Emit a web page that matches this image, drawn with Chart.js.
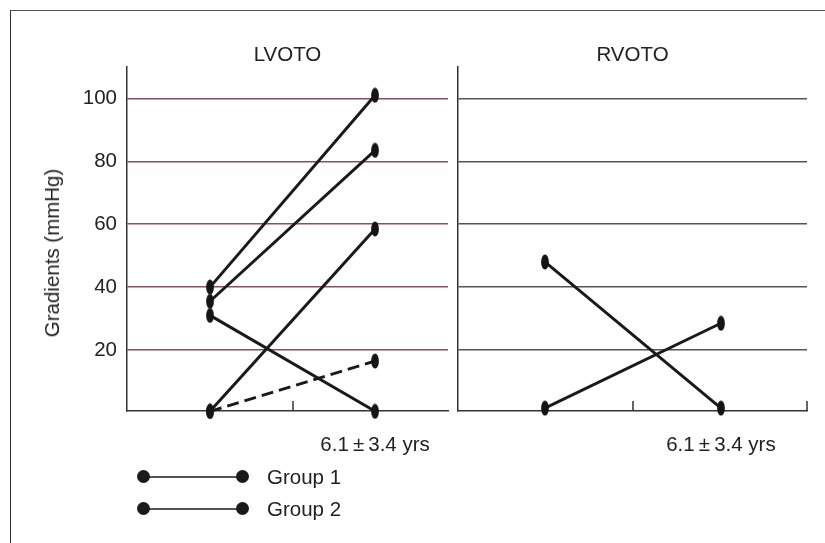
<!DOCTYPE html>
<html>
<head>
<meta charset="utf-8">
<script src="https://cdn.jsdelivr.net/npm/chart.js@4"></script>
<style>
  html, body { margin: 0; padding: 0; background: #fff; }
  #wrap { position: relative; width: 825px; height: 543px; overflow: hidden;
          font-family: "Liberation Sans", Arial, Helvetica, sans-serif; color: #222; }
  #frame { position: absolute; left: 10px; top: 10px; width: 900px; height: 700px;
           border-top: 1.5px solid #555; border-left: 1.5px solid #333; }
  canvas { position: absolute; top: 0; }
  #cL { left: 0; }
  #cR { left: 452px; }
  #ytitle { position: absolute; left: 52px; top: 253px; font-size: 20.5px; white-space: nowrap;
            transform: translate(-50%, -50%) rotate(-90deg); }
  .legItem { position: absolute; left: 137px; height: 14px; width: 300px; }
  .legLine { position: absolute; left: 6px; top: 6px; width: 99px; height: 2px; background: #555; }
  .legDot { position: absolute; top: 0; width: 13px; height: 13px; border-radius: 50%; background: #1a1a1a; }
  .legText { position: absolute; left: 130px; top: -5px; font-size: 20.5px; line-height: 24px; }
</style>
</head>
<body>
<div id="wrap">
  <div id="frame"></div>
  <canvas id="cL" width="452" height="543"></canvas>
  <canvas id="cR" width="373" height="543"></canvas>
  <div id="ytitle">Gradients (mmHg)</div>
  <div id="legend"></div>
</div>
<script>
// Time points: baseline and follow-up
const timepoints = [1, 2];
const followUpLabel = '6.1\u2009\u00B1\u20093.4 yrs';
const panelTitles = ['LVOTO', 'RVOTO'];
const gradientTicks = [20, 40, 60, 80, 100];
const groupLabels = ['Group 1', 'Group 2'];

// LVOTO gradients (mmHg) per patient, baseline -> follow-up
const lvotoBaseline = [40, 35.5, 31, 0.5, 0.5];
const lvotoFollowUp = [101, 83.5, 0.5, 58.5, 16.5];
const lvotoGroup    = [1, 1, 1, 1, 2];

// RVOTO gradients (mmHg) per patient, baseline -> follow-up
const rvotoBaseline = [48, 1.5];
const rvotoFollowUp = [1.5, 28.5];
const rvotoGroup    = [1, 1];

const FONT_FAMILY = '"Liberation Sans", Arial, Helvetica, sans-serif';
const INK = '#1a1a1a';

// Upright elliptical marker used for each measurement
const marker = document.createElement('canvas');
marker.width = 8; marker.height = 16;
(function () {
  const c = marker.getContext('2d');
  c.fillStyle = '#151515';
  c.beginPath();
  c.ellipse(4, 8, 3.9, 7.6, 0, 0, Math.PI * 2);
  c.fill();
})();

function buildDatasets(before, after, group) {
  return before.map((b, i) => ({
    label: groupLabels[group[i] - 1],
    data: [{ x: timepoints[0], y: b }, { x: timepoints[1], y: after[i] }],
    showLine: true,
    borderColor: INK,
    borderWidth: 3,
    borderDash: group[i] === 2 ? [12, 6] : [],
    pointStyle: marker,
    pointRadius: 8,
    pointBackgroundColor: INK,
    clip: false
  }));
}

// Panel title and the small inward ticks on the x axis
function panelDecor(title, midTicks, endTick) {
  return {
    id: 'panelDecor',
    afterDraw(chart) {
      const { ctx, chartArea, scales } = chart;
      ctx.save();
      ctx.strokeStyle = '#333';
      ctx.lineWidth = 1.5;
      const xs = midTicks.map(v => scales.x.getPixelForValue(v));
      if (endTick) xs.push(chartArea.right);
      xs.forEach(px => {
        const x = Math.round(px);
        ctx.beginPath();
        ctx.moveTo(x, chartArea.bottom);
        ctx.lineTo(x, chartArea.bottom - 10);
        ctx.stroke();
      });
      ctx.fillStyle = '#222';
      ctx.font = '20.5px ' + FONT_FAMILY;
      ctx.textAlign = 'center';
      ctx.textBaseline = 'alphabetic';
      ctx.fillText(title, (chartArea.left + chartArea.right) / 2, 61);
      ctx.restore();
    }
  };
}

function makePanel(canvasId, datasets, cfg) {
  return new Chart(document.getElementById(canvasId), {
    type: 'scatter',
    data: { datasets },
    options: {
      responsive: false,
      animation: false,
      events: [],
      layout: { padding: cfg.padding, autoPadding: false },
      plugins: { legend: { display: false }, tooltip: { enabled: false }, title: { display: false } },
      scales: {
        x: {
          type: 'linear',
          position: 'bottom',
          min: cfg.xMin,
          max: cfg.xMax,
          grid: { display: false, drawTicks: false },
          border: { display: true, color: '#333', width: 1.5 },
          ticks: {
            padding: 22,
            maxRotation: 0,
            autoSkip: false,
            color: '#222',
            font: { size: 20.5, family: FONT_FAMILY },
            callback: v => (v === timepoints[1] ? followUpLabel : '')
          },
          afterBuildTicks: s => { s.ticks = [{ value: timepoints[1] }]; },
          afterFit: s => { s.height = 132; s.paddingLeft = 0; s.paddingRight = 0; }
        },
        y: {
          type: 'linear',
          min: 0.6,
          max: 110,
          grid: { color: cfg.gridColor, lineWidth: 1.5, drawTicks: false },
          border: { display: true, color: '#333', width: 1.5 },
          ticks: {
            display: cfg.showYLabels,
            padding: 10,
            color: '#222',
            font: { size: 20.5, family: FONT_FAMILY }
          },
          afterBuildTicks: s => { s.ticks = gradientTicks.map(v => ({ value: v })); },
          afterFit: s => { s.width = cfg.yWidth; s.paddingTop = 0; s.paddingBottom = 0; }
        }
      }
    },
    plugins: [panelDecor(cfg.title, [1.5], cfg.endTick)]
  });
}

makePanel('cL', buildDatasets(lvotoBaseline, lvotoFollowUp, lvotoGroup), {
  title: panelTitles[0],
  padding: { left: 0, right: 4, top: 67, bottom: 0 },
  xMin: 0.497, xMax: 2.442,
  yWidth: 127,
  showYLabels: true,
  gridColor: '#86525e',
  endTick: false
});

makePanel('cR', buildDatasets(rvotoBaseline, rvotoFollowUp, rvotoGroup), {
  title: panelTitles[1],
  padding: { left: 6, right: 18, top: 67, bottom: 0 },
  xMin: 0.506, xMax: 2.489,
  yWidth: 0,
  showYLabels: false,
  gridColor: '#555',
  endTick: true
});

// Legend
const legend = document.getElementById('legend');
groupLabels.forEach((label, i) => {
  const item = document.createElement('div');
  item.className = 'legItem';
  item.style.top = (470 + i * 32) + 'px';
  item.innerHTML = '<div class="legLine"></div>' +
    '<div class="legDot" style="left:0"></div>' +
    '<div class="legDot" style="left:99px"></div>' +
    '<div class="legText"></div>';
  item.querySelector('.legText').textContent = label;
  legend.appendChild(item);
});
</script>
</body>
</html>
